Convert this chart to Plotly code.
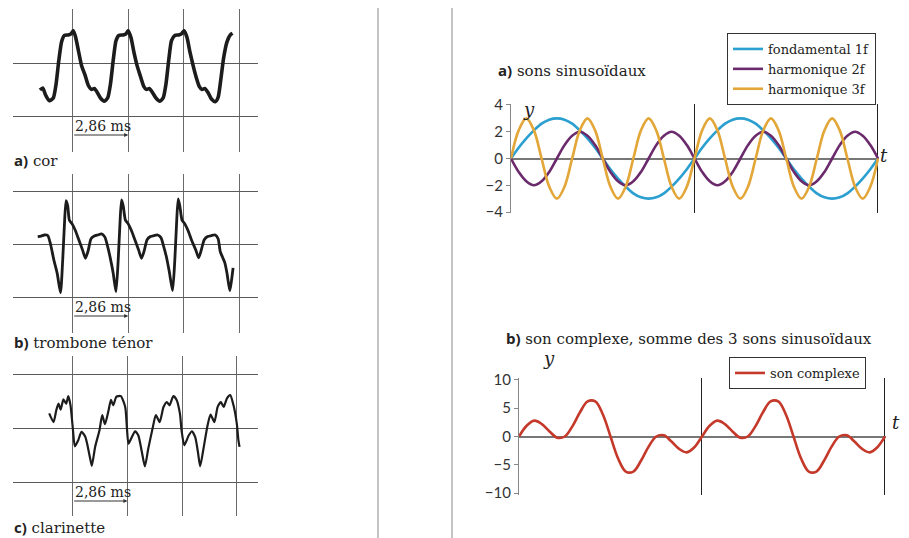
import plotly.graph_objects as go

W, H = 909, 538

# ---------- left: oscillograms (x in divisions of 2,86 ms, y in vertical divisions)
cor_x = [-0.59, -0.54, -0.49, -0.42, -0.35, -0.30, -0.25, -0.20, -0.15, -0.08, -0.03, 0.01, 0.05, 0.10,
         0.16, 0.22, 0.28, 0.34, 0.39, 0.44, 0.50, 0.57, 0.63, 0.68, 0.73, 0.78, 0.83, 0.91, 0.96,
         1.00, 1.05, 1.10, 1.16, 1.22, 1.28, 1.33, 1.38, 1.44, 1.50, 1.57, 1.63, 1.68, 1.73, 1.78,
         1.84, 1.91, 1.96, 2.01, 2.06, 2.11, 2.17, 2.22, 2.28, 2.33, 2.38, 2.44, 2.50, 2.57, 2.62,
         2.67, 2.72, 2.78, 2.84, 2.88]
cor_y = [-0.51, -0.47, -0.60, -0.71, -0.66, -0.40, 0.05, 0.40, 0.52, 0.53, 0.55, 0.61, 0.50, 0.25,
         -0.05, -0.22, -0.42, -0.50, -0.48, -0.55, -0.66, -0.72, -0.66, -0.40, 0.05, 0.42, 0.52, 0.53, 0.55,
         0.61, 0.48, 0.22, -0.05, -0.25, -0.44, -0.50, -0.48, -0.56, -0.66, -0.72, -0.66, -0.40, 0.05, 0.42,
         0.52, 0.53, 0.55, 0.61, 0.48, 0.22, -0.05, -0.25, -0.44, -0.50, -0.48, -0.56, -0.68, -0.73, -0.65,
         -0.30, 0.10, 0.40, 0.53, 0.56]

trombone_x = [-0.63, -0.57, -0.51, -0.45, -0.40, -0.34, -0.28, -0.22, -0.18, -0.15, -0.12, -0.09, -0.06,
              -0.01, 0.05, 0.12, 0.18, 0.23, 0.28, 0.33, 0.39, 0.45, 0.52, 0.58, 0.63, 0.68, 0.73, 0.78,
              0.82, 0.85, 0.88, 0.91, 0.95, 1.00, 1.06, 1.13, 1.19, 1.24, 1.29, 1.34, 1.40, 1.47, 1.53,
              1.59, 1.64, 1.69, 1.74, 1.80, 1.84, 1.87, 1.90, 1.93, 1.97, 2.02, 2.08, 2.15, 2.22, 2.27,
              2.32, 2.37, 2.43, 2.50, 2.57, 2.62, 2.66, 2.70, 2.74, 2.78, 2.83, 2.86, 2.89]
trombone_y = [0.14, 0.15, 0.17, 0.16, 0.00, -0.30, -0.55, -0.92, -0.30, 0.35, 0.82, 0.72, 0.45,
              0.38, 0.25, 0.05, -0.12, -0.27, -0.12, 0.10, 0.15, 0.17, 0.19, 0.13, -0.05, -0.28, -0.55, -0.90,
              -0.30, 0.35, 0.83, 0.72, 0.45, 0.38, 0.25, 0.05, -0.12, -0.27, -0.12, 0.08, 0.14, 0.16, 0.17,
              0.12, -0.05, -0.25, -0.52, -0.88, -0.30, 0.35, 0.85, 0.72, 0.45, 0.38, 0.25, 0.05, -0.12, -0.26,
              -0.10, 0.08, 0.14, 0.16, 0.17, 0.10, -0.15, -0.25, -0.35, -0.55, -0.88, -0.70, -0.45]

clarinette_x = [-0.43, -0.35, -0.30, -0.26, -0.22, -0.17, -0.12, -0.08, -0.04, 0.00, 0.04, 0.10, 0.16,
                0.23, 0.27, 0.32, 0.35, 0.41, 0.49, 0.54, 0.59, 0.65, 0.70, 0.74, 0.80, 0.88, 0.96, 0.99,
                1.02, 1.08, 1.14, 1.20, 1.26, 1.32, 1.38, 1.46, 1.52, 1.59, 1.66, 1.72, 1.77, 1.84, 1.90,
                1.96, 1.99, 2.04, 2.12, 2.18, 2.24, 2.29, 2.33, 2.39, 2.46, 2.52, 2.59, 2.65, 2.71, 2.76,
                2.82, 2.88, 2.94, 3.00, 3.03, 3.05]
clarinette_y = [0.27, 0.11, 0.33, 0.45, 0.34, 0.53, 0.45, 0.59, 0.42, 0.02, -0.34, -0.23, -0.07,
                -0.16, -0.32, -0.57, -0.70, -0.35, -0.04, 0.24, 0.07, 0.30, 0.52, 0.42, 0.58, 0.59, 0.39, 0.02,
                -0.29, -0.17, -0.06, -0.14, -0.42, -0.71, -0.39, -0.01, 0.24, 0.11, 0.39, 0.48, 0.42, 0.59, 0.52,
                0.27, -0.04, -0.32, -0.14, -0.06, -0.17, -0.45, -0.71, -0.39, 0.02, 0.25, 0.11, 0.39, 0.48, 0.39,
                0.55, 0.61, 0.42, 0.08, -0.23, -0.35]

# ---------- right: sinusoids, abscissa = phase of the fundamental (degrees)
phase = list(range(0, 721, 15))
fondamental = [0, 0.8, 1.5, 2.1, 2.6, 2.9, 3.0, 2.9, 2.6, 2.1, 1.5, 0.8,
               0, -0.8, -1.5, -2.1, -2.6, -2.9, -3.0, -2.9, -2.6, -2.1, -1.5, -0.8,
               0, 0.8, 1.5, 2.1, 2.6, 2.9, 3.0, 2.9, 2.6, 2.1, 1.5, 0.8,
               0, -0.8, -1.5, -2.1, -2.6, -2.9, -3.0, -2.9, -2.6, -2.1, -1.5, -0.8, 0]
harmonique2 = [0, -1.0, -1.7, -2.0, -1.7, -1.0, 0, 1.0, 1.7, 2.0, 1.7, 1.0,
               0, -1.0, -1.7, -2.0, -1.7, -1.0, 0, 1.0, 1.7, 2.0, 1.7, 1.0,
               0, -1.0, -1.7, -2.0, -1.7, -1.0, 0, 1.0, 1.7, 2.0, 1.7, 1.0,
               0, -1.0, -1.7, -2.0, -1.7, -1.0, 0, 1.0, 1.7, 2.0, 1.7, 1.0, 0]
harmonique3 = [0, 2.1, 3.0, 2.1, 0, -2.1, -3.0, -2.1, 0, 2.1, 3.0, 2.1,
               0, -2.1, -3.0, -2.1, 0, 2.1, 3.0, 2.1, 0, -2.1, -3.0, -2.1,
               0, 2.1, 3.0, 2.1, 0, -2.1, -3.0, -2.1, 0, 2.1, 3.0, 2.1,
               0, -2.1, -3.0, -2.1, 0, 2.1, 3.0, 2.1, 0, -2.1, -3.0, -2.1, 0]
complexe = [0, 1.9, 2.8, 2.2, 0.9, -0.2, 0, 1.8, 4.3, 6.2, 6.2, 3.9,
            0, -3.9, -6.2, -6.2, -4.3, -1.8, 0, 0.2, -0.9, -2.2, -2.8, -1.9,
            0, 1.9, 2.8, 2.2, 0.9, -0.2, 0, 1.8, 4.3, 6.2, 6.2, 3.9,
            0, -3.9, -6.2, -6.2, -4.3, -1.8, 0, 0.2, -0.9, -2.2, -2.8, -1.9, 0]

SERIF = "DejaVu Serif"
SANS = "Lato"


def fx(p):
    return p / W


def fy(p):
    return 1 - p / H


def tag(letter):
    return "<span style='font-family:Open Sans'><b>%s)</b></span>" % letter


fig = go.Figure()
layout = {}
annotations = []

# left panels: (axis suffix, x, y, line width, v-extent px, mid px, px/div y, x0 px, px/div x, label, label y)
left = [
    ("", cor_x, cor_y, 3.6, (9, 152), 63, 53, 72.7, 55.5, tag("a") + " cor", 160),
    ("2", trombone_x, trombone_y, 2.8, (174, 333), 244, 53, 72.7, 55.5, tag("b") + " trombone ténor", 342),
    ("3", clarinette_x, clarinette_y, 2.2, (356, 516), 428, 54, 72.7, 54.7, tag("c") + " clarinette", 527),
]
for n, xs, ys, lw, (vt, vb), mid, sy, x0, sx, label, ly in left:
    fig.add_trace(go.Scatter(x=xs, y=ys, mode="lines", xaxis="x" + n, yaxis="y" + n,
                             line=dict(color="#1c1c1c", width=lw, shape="spline", smoothing=0.6),
                             showlegend=False, hoverinfo="skip"))
    layout["xaxis" + n] = dict(domain=[fx(13), fx(258)], range=[(13 - x0) / sx, (258 - x0) / sx],
                               tickvals=[0, 1, 2, 3], showticklabels=False, ticks="", automargin=False,
                               showgrid=True, gridcolor="#6a6a6a", gridwidth=1.2,
                               zeroline=False, showline=False, anchor="y" + n)
    layout["yaxis" + n] = dict(domain=[fy(vb), fy(vt)], range=[(mid - vb) / sy, (mid - vt) / sy],
                               tickvals=[-1, 0, 1], showticklabels=False, ticks="", automargin=False,
                               showgrid=True, gridcolor="#5a5a5a", gridwidth=1.3,
                               zeroline=False, showline=False, anchor="x" + n)
    ytxt = -1 - 10 / sy
    yarr = -1 - 19 / sy
    annotations.append(dict(x=0, y=ytxt, xref="x" + n, yref="y" + n, text="2,86 ms", showarrow=False,
                            xanchor="left", yanchor="middle", font=dict(family=SERIF, size=14, color="#222")))
    annotations.append(dict(x=1, y=yarr, ax=0, ay=yarr, xref="x" + n, yref="y" + n,
                            axref="x" + n, ayref="y" + n, text="", showarrow=True,
                            arrowhead=2, arrowsize=0.8, arrowwidth=1, arrowcolor="#333"))
    annotations.append(dict(x=fx(12), y=fy(ly), xref="paper", yref="paper", text=label, showarrow=False,
                            xanchor="left", yanchor="middle", font=dict(family=SERIF, size=15, color="#222")))

# right top: sinusoids
for vals, name, color in [(fondamental, "fondamental 1f", "#2a9fd0"),
                          (harmonique2, "harmonique 2f", "#6a2a6b"),
                          (harmonique3, "harmonique 3f", "#e3a638")]:
    fig.add_trace(go.Scatter(x=phase, y=vals, mode="lines", name=name, xaxis="x4", yaxis="y4",
                             line=dict(color=color, width=2.6, shape="spline", smoothing=1),
                             legend="legend"))

fig.add_trace(go.Scatter(x=phase, y=complexe, mode="lines", name="son complexe", xaxis="x5", yaxis="y5",
                         line=dict(color="#c4392a", width=2.6, shape="spline", smoothing=1),
                         legend="legend2"))

tickfont = dict(family=SANS, size=15, color="#333")
for n, xd, yd, yr, tv in [("4", (511, 879), (104, 213), 4.07, [-4, -2, 0, 2, 4]),
                          ("5", (519, 886), (378, 495), 10.35, [-10, -5, 0, 5, 10])]:
    layout["xaxis" + n] = dict(domain=[fx(xd[0]), fx(xd[1])], range=[0, 722], tickvals=[360, 720],
                               showticklabels=False, ticks="", showgrid=True, gridcolor="#222",
                               gridwidth=1.3, zeroline=False, showline=False, automargin=False,
                               anchor="y" + n)
    layout["yaxis" + n] = dict(domain=[fy(yd[1]), fy(yd[0])], range=[-yr, yr], tickvals=tv,
                               ticks="outside", ticklen=4, tickcolor="#888", showline=True,
                               linecolor="#888", linewidth=1.2, showgrid=False, zeroline=True,
                               zerolinecolor="#777", zerolinewidth=1.5, tickfont=tickfont,
                               automargin=False, anchor="x" + n)

for text, x, y in [(tag("a") + " sons sinusoïdaux", 496, 70),
                   (tag("b") + " son complexe, somme des 3 sons sinusoïdaux", 504, 338)]:
    annotations.append(dict(x=fx(x), y=fy(y), xref="paper", yref="paper", text=text, showarrow=False,
                            xanchor="left", yanchor="middle", font=dict(family=SERIF, size=15, color="#222")))
for text, x, y in [("y", 529, 97), ("t", 890, 143), ("y", 549, 371), ("t", 902, 435)]:
    annotations.append(dict(x=fx(x), y=fy(y), xref="paper", yref="paper", text="<i>%s</i>" % text,
                            showarrow=False, font=dict(family=SERIF, size=18, color="#222")))

legend_style = dict(bgcolor="white", bordercolor="#333", borderwidth=1, xanchor="left", yanchor="top",
                    font=dict(family=SERIF, size=13, color="#222"), itemwidth=30, tracegroupgap=0)
layout["legend"] = dict(x=fx(727), y=fy(33), **legend_style)
layout["legend2"] = dict(x=fx(729), y=fy(357), **legend_style)

# separators between the two halves of the page
shapes = [dict(type="line", xref="paper", yref="paper", x0=fx(x), x1=fx(x), y0=fy(8), y1=0,
               line=dict(color="#b0b0b0", width=1.5)) for x in (378, 452)]

fig.update_layout(template="none", width=W, height=H, margin=dict(l=0, r=0, t=0, b=0, pad=0),
                  autosize=False, paper_bgcolor="white", plot_bgcolor="rgba(0,0,0,0)", showlegend=True,
                  annotations=annotations, shapes=shapes, **layout)

fig.write_html("out.html", config={"displayModeBar": False},
               post_script="document.documentElement.style.margin='0';document.body.style.margin='0';"
                           "document.body.style.padding='0';document.body.style.overflow='hidden';")
